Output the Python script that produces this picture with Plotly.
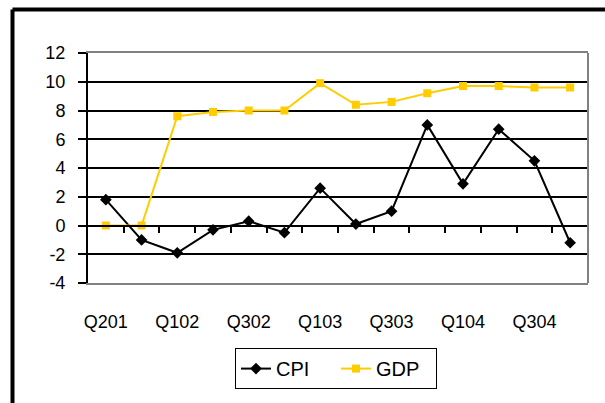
import plotly.graph_objects as go

# Quarterly observations (Q201 .. Q404)
quarters = ["Q201", "Q401", "Q102", "Q202", "Q302", "Q402", "Q103",
            "Q203", "Q303", "Q403", "Q104", "Q204", "Q304", "Q404"]
cpi = [1.8, -1.0, -1.9, -0.3, 0.3, -0.5, 2.6, 0.1, 1.0, 7.0, 2.9, 6.7, 4.5, -1.2]
gdp = [0.0, 0.0, 7.6, 7.9, 8.0, 8.0, 9.9, 8.4, 8.6, 9.2, 9.7, 9.7, 9.6, 9.6]
y_ticks = [-4, -2, 0, 2, 4, 6, 8, 10, 12]
y_labels = ["-4", "-2", "0", "2", "4", "6", "8", "10", "12"]

FONT = "Liberation Sans, Arial, sans-serif"
GOLD = "#FFCC00"

fig = go.Figure()
fig.add_trace(go.Scatter(
    x=quarters, y=cpi, name="CPI", mode="lines+markers",
    line=dict(color="black", width=2),
    marker=dict(symbol="diamond", size=9, color="black"),
))
fig.add_trace(go.Scatter(
    x=quarters, y=gdp, name="GDP", mode="lines+markers",
    line=dict(color=GOLD, width=2),
    marker=dict(symbol="square", size=8, color=GOLD),
))
# empty trace so the zero-level category axis is rendered
fig.add_trace(go.Scatter(x=[], y=[], xaxis="x2", showlegend=False, hoverinfo="skip"))

n = len(quarters)
fig.update_layout(
    width=605, height=403,
    margin=dict(l=88, r=17, t=53, b=120),
    paper_bgcolor="white", plot_bgcolor="white",
    font=dict(family=FONT, size=18, color="black"),
    showlegend=True,
    legend=dict(
        orientation="h", x=0.294, y=-0.283, xanchor="left", yanchor="top",
        bordercolor="black", borderwidth=1, font=dict(size=20),
        entrywidth=55, itemwidth=30,
    ),
    xaxis=dict(
        type="category", range=[-0.5, n - 0.5],
        tickvals=quarters[::2], ticks="", showgrid=False,
        showline=True, linecolor="#808080", linewidth=2, mirror=True,
        ticklabelstandoff=21, tickfont=dict(size=18),
    ),
    xaxis2=dict(
        overlaying="x", anchor="free", position=0.25,
        range=[-0.5, n - 0.5], showgrid=False, zeroline=False,
        showticklabels=False, showline=True, linecolor="black", linewidth=2,
        ticks="outside", ticklen=6, tickwidth=1.5, tickcolor="black",
        tickvals=[i + 0.5 for i in range(n)],
    ),
    yaxis=dict(
        range=[-4, 12], tickvals=y_ticks, ticktext=y_labels, showgrid=True,
        gridcolor="black", gridwidth=1.5, zeroline=False,
        showline=True, linecolor="black", linewidth=2,
        ticks="outside", ticklen=8, tickwidth=1.5, tickcolor="black",
        tickfont=dict(size=18), ticklabelstandoff=9,
    ),
    shapes=[
        # right edge of plot area
        dict(type="line", xref="x domain", yref="y domain", x0=1, x1=1, y0=0, y1=1,
             line=dict(color="#808080", width=2)),
        # outer frame (left and top edges)
        dict(type="line", xref="paper", yref="paper", x0=-0.151, x1=-0.151, y0=-0.6, y1=1.189,
             line=dict(color="black", width=4)),
        dict(type="line", xref="paper", yref="paper", x0=-0.151, x1=1.05, y0=1.189, y1=1.189,
             line=dict(color="black", width=4)),
    ],
    annotations=[
        dict(text="Figure 1: Inflation and GDP growth", xref="paper", yref="paper",
             x=-0.16, y=1.242, xanchor="left", yanchor="bottom", showarrow=False,
             font=dict(size=14, color="black")),
    ],
)

fig.write_html("out.html")
